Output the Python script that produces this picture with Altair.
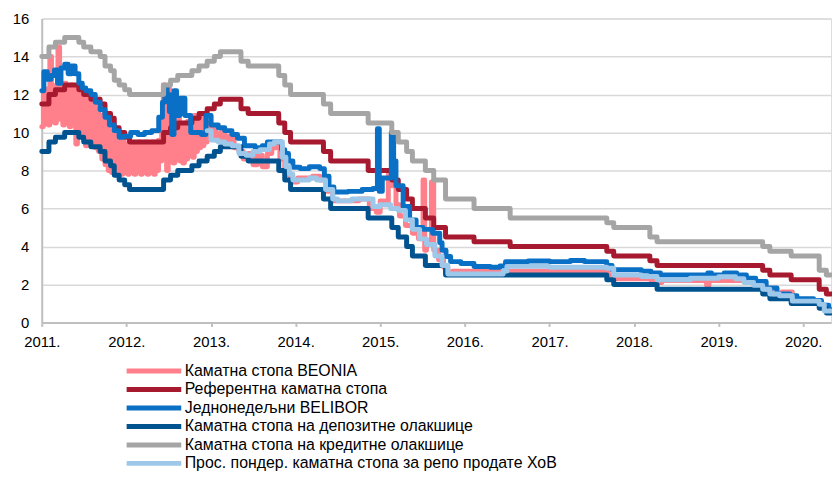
import altair as alt
import pandas as pd

# ---------------- series names and colours (legend order) ----------------
names = [
    "Каматна стопа BEONIA",
    "Референтна каматна стопа",
    "Једнонедељни BELIBOR",
    "Каматна стопа на депозитне олакшице",
    "Каматна стопа на кредитне олакшице",
    "Прос. пондер. каматна стопа за репо продате ХоВ",
]
colors = ["#FF808B", "#A6192E", "#0A70C6", "#00538F", "#A5A5A5", "#9DC8EA"]

END_DATE = "2020-04-30"

# ---------------- policy rate and corridor (step changes) ----------------
policy_dates = [
    "2011-01-01", "2011-02-01", "2011-03-01", "2011-04-10", "2011-06-10", "2011-07-01",
    "2011-08-01", "2011-09-10", "2011-10-01", "2011-10-25", "2011-11-10", "2011-12-01",
    "2011-12-25", "2012-01-15", "2012-06-10", "2012-07-10", "2012-08-10", "2012-10-10",
    "2012-11-10", "2012-12-15", "2013-01-15", "2013-02-10", "2013-05-10", "2013-06-10",
    "2013-10-20", "2013-11-15", "2013-12-10", "2014-05-01", "2014-06-01", "2014-11-10",
    "2015-02-20", "2015-03-20", "2015-04-25", "2015-05-20", "2015-07-15", "2015-08-20",
    "2015-10-10", "2016-02-10", "2016-07-15", "2017-09-05", "2017-10-05", "2018-03-10",
    "2018-04-10", "2019-07-10", "2019-08-10", "2019-11-10", "2020-03-10", "2020-04-10",
]
ref_rate = [
    11.5, 12.0, 12.25, 12.5, 12.25, 12.0,
    11.75, 11.5, 11.0, 10.75, 10.25, 10.0,
    9.75, 9.5, 10.0, 10.25, 10.5, 10.75,
    11.0, 11.25, 11.5, 11.75, 11.25, 11.0,
    10.5, 10.0, 9.5, 9.0, 8.5, 8.0,
    7.5, 7.0, 6.5, 6.0, 5.5, 5.0,
    4.5, 4.25, 4.0, 3.75, 3.5, 3.25,
    3.0, 2.75, 2.5, 2.25, 1.75, 1.5,
]
lending_rate = [
    14.0, 14.5, 14.75, 15.0, 14.75, 14.5,
    14.25, 14.0, 13.5, 13.25, 12.75, 12.5,
    12.25, 12.0, 12.5, 12.75, 13.0, 13.25,
    13.5, 13.75, 14.0, 14.25, 13.75, 13.5,
    13.0, 12.5, 12.0, 11.5, 11.0, 10.5,
    10.0, 9.5, 9.0, 8.5, 8.0, 7.5,
    6.5, 6.0, 5.5, 5.25, 5.0, 4.5,
    4.25, 4.0, 3.75, 3.5, 2.75, 2.5,
]
deposit_rate = [
    9.0, 9.5, 9.75, 10.0, 9.75, 9.5,
    9.25, 9.0, 8.5, 8.25, 7.75, 7.5,
    7.25, 7.0, 7.5, 7.75, 8.0, 8.25,
    8.5, 8.75, 9.0, 9.25, 8.75, 8.5,
    8.0, 7.5, 7.0, 6.5, 6.0, 5.5,
    5.0, 4.5, 4.0, 3.5, 3.0, 3.0,
    2.5, 2.5, 2.5, 2.25, 2.0, 2.0,
    1.75, 1.5, 1.25, 1.0, 0.75, 0.5,
]

# ---------------- BEONIA: weekly readings 2011-2012, then change points ----------------
beonia_weekly_start = "2011-01-01"
beonia_weekly = [
    # 2011 Q1
    10.3, 12.1, 10.5, 12.3, 10.4, 14.0, 10.6, 12.4, 10.5, 12.5, 14.5, 10.7, 12.5,
    # 2011 Q2
    10.4, 12.6, 10.5, 12.4, 10.3, 12.5, 10.4, 12.3, 9.4, 12.2, 10.2, 12.0, 10.0,
    # 2011 Q3
    11.9, 9.3, 11.8, 9.8, 11.6, 9.4, 11.4, 9.2, 11.2, 9.0, 10.9, 8.6, 10.6,
    # 2011 Q4
    8.3, 10.3, 8.0, 10.1, 7.9, 9.9, 7.8, 9.7, 8.0, 9.6, 7.8, 9.5, 7.9,
    # 2012 Q1
    9.4, 7.8, 9.5, 7.9, 9.3, 7.8, 9.4, 8.0, 9.5, 7.8, 9.4, 7.9, 9.5,
    # 2012 Q2
    7.8, 9.4, 7.9, 9.5, 7.8, 9.5, 8.0, 9.6, 8.5, 10.2, 12.5, 11.8, 8.0,
    # 2012 Q3
    12.3, 9.0, 10.8, 8.4, 10.5, 8.6, 10.7, 8.5, 10.4, 8.4, 10.5, 8.6, 10.6,
    # 2012 Q4
    8.8, 10.7, 8.7, 10.9, 9.0, 10.8, 9.2, 11.0, 9.3, 10.8, 9.5, 10.5, 9.8,
]
beonia_dates = [
    "2013-01-01", "2013-01-20", "2013-02-10", "2013-03-01", "2013-03-20", "2013-04-10",
    "2013-05-01", "2013-05-20", "2013-06-10", "2013-07-01", "2013-07-20", "2013-08-10",
    "2013-09-01", "2013-09-20", "2013-10-10", "2013-10-25", "2013-11-15", "2013-12-10",
    "2014-01-10", "2014-02-15", "2014-03-15", "2014-04-15", "2014-05-15", "2014-06-10",
    "2014-08-01", "2014-10-01", "2014-11-15", "2014-12-15", "2015-01-01", "2015-01-20",
    "2015-02-05", "2015-02-20", "2015-03-10", "2015-03-25", "2015-04-20", "2015-05-20",
    "2015-06-15", "2015-07-05", "2015-07-12", "2015-07-20", "2015-08-10", "2015-08-20",
    "2015-09-10", "2015-10-01", "2015-10-20", "2015-11-10", "2016-06-01", "2016-07-15",
    "2017-09-10", "2017-10-10", "2018-03-15", "2018-04-15", "2018-05-01", "2018-11-10",
    "2018-11-20", "2019-06-01", "2019-07-15", "2019-08-15", "2019-09-15", "2019-10-01",
    "2019-11-15", "2020-01-01", "2020-03-15", "2020-04-15",
]
beonia_vals = [
    10.2, 9.6, 10.0, 9.5, 9.8, 9.2,
    9.0, 8.6, 8.9, 8.3, 8.8, 8.2,
    8.9, 9.2, 9.4, 8.6, 7.8, 7.4,
    7.6, 7.6, 7.7, 7.5, 6.9, 6.4,
    6.4, 6.5, 6.0, 5.8, 6.4, 6.2,
    7.8, 7.2, 6.2, 5.6, 5.1, 4.7,
    4.4, 7.5, 3.8, 4.3, 7.4, 3.8,
    3.3, 2.9, 2.6, 2.7, 2.6, 2.7,
    2.5, 2.3, 2.2, 2.1, 2.2, 1.95,
    2.2, 2.1, 1.8, 1.5, 1.3, 1.6,
    1.2, 1.1, 0.8, 0.55,
]

# ---------------- BELIBOR 1W ----------------
belibor_dates = [
    "2011-01-01", "2011-01-10", "2011-01-25", "2011-02-10", "2011-02-25", "2011-03-10",
    "2011-03-25", "2011-04-10", "2011-04-25", "2011-05-10", "2011-05-25", "2011-06-10",
    "2011-06-25", "2011-07-10", "2011-08-01", "2011-08-20", "2011-09-10", "2011-10-01",
    "2011-10-20", "2011-11-10", "2011-12-01", "2011-12-20", "2012-01-20", "2012-02-20",
    "2012-03-20", "2012-04-20", "2012-05-20", "2012-06-05", "2012-06-15", "2012-06-25",
    "2012-07-05", "2012-07-15", "2012-07-25", "2012-08-05", "2012-08-20", "2012-09-10",
    "2012-10-05", "2012-11-20", "2012-12-10", "2013-01-01", "2013-02-01", "2013-03-01",
    "2013-04-01", "2013-04-25", "2013-05-25", "2013-07-10", "2013-08-10", "2013-09-01",
    "2013-11-01", "2013-11-15", "2013-12-01", "2013-12-20", "2014-01-20", "2014-03-01",
    "2014-04-15", "2014-05-05", "2014-05-25", "2014-06-15", "2014-08-15", "2014-10-15",
    "2014-12-01", "2014-12-20", "2014-12-28", "2015-01-10", "2015-02-18", "2015-02-28",
    "2015-03-10", "2015-04-10", "2015-05-08", "2015-06-05", "2015-07-05", "2015-08-15",
    "2015-09-15", "2015-09-25", "2015-10-12", "2015-11-01", "2015-12-15", "2016-02-10",
    "2016-04-20", "2016-06-01", "2016-06-25", "2016-10-01", "2017-01-01", "2017-04-01",
    "2017-06-01", "2017-09-05", "2017-09-28", "2018-02-01", "2018-03-15", "2018-04-25",
    "2018-11-15", "2018-12-01", "2019-01-25", "2019-03-20", "2019-05-01", "2019-06-10",
    "2019-07-25", "2019-09-10", "2019-11-05", "2019-12-05", "2020-02-15", "2020-03-20",
    "2020-04-20",
]
belibor_vals = [
    12.2, 13.2, 12.8, 13.0, 13.3, 12.6,
    13.4, 13.6, 13.1, 13.5, 13.1, 12.6,
    12.35, 12.2, 12.0, 11.6, 11.2, 10.8,
    10.4, 10.1, 9.75, 9.8, 10.0, 9.9,
    10.0, 10.1, 10.8, 11.6, 12.4, 12.0,
    11.1, 9.9, 12.2, 10.9, 11.8, 10.9,
    10.0, 9.9, 10.9, 10.4, 10.25, 10.1,
    9.9, 9.7, 9.3, 9.2, 9.3, 9.5,
    9.1, 8.9, 8.5, 8.17, 8.1, 8.2,
    8.1, 7.7, 7.13, 6.87, 6.9, 7.0,
    7.05, 10.2, 6.9, 7.6, 10.0, 8.5,
    7.2, 6.1, 5.4, 5.0, 4.9, 4.7,
    4.2, 3.8, 3.47, 3.2, 3.1, 2.94,
    2.9, 2.97, 3.2, 3.23, 3.2, 3.26,
    3.2, 3.0, 2.77, 2.7, 2.6, 2.5,
    2.6, 2.5, 2.6, 2.5, 2.33, 2.16,
    1.81, 1.5, 1.4, 1.24, 1.16, 0.9,
    0.68,
]

# ---------------- weighted average repo rate ----------------
repo_dates = [
    "2012-12-15", "2013-01-01", "2013-02-01", "2013-03-01", "2013-04-01", "2013-05-01",
    "2013-06-01", "2013-07-01", "2013-08-01", "2013-09-10", "2013-10-01", "2013-11-05",
    "2013-11-20", "2013-12-05", "2013-12-20", "2014-03-01", "2014-04-01", "2014-05-10",
    "2014-06-10", "2014-07-01", "2014-09-01", "2014-12-01", "2015-01-01", "2015-02-15",
    "2015-03-20", "2015-04-20", "2015-05-20", "2015-06-20", "2015-07-20", "2015-08-25",
    "2015-09-25", "2015-10-20", "2016-06-15", "2016-07-01", "2017-01-01", "2017-09-05",
    "2017-10-05", "2018-02-01", "2018-04-10", "2018-09-01", "2019-01-01", "2019-03-15",
    "2019-04-20", "2019-06-01", "2019-07-10", "2019-08-10", "2019-09-20", "2019-11-15",
    "2020-03-10", "2020-04-01",
]
repo_vals = [
    10.1, 9.6, 9.5, 9.4, 9.3, 8.9,
    8.8, 9.0, 9.1, 9.4, 9.5, 8.7,
    8.2, 7.8, 7.5, 7.6, 7.5, 7.0,
    6.5, 6.4, 6.5, 6.1, 6.2, 6.0,
    5.9, 5.4, 4.9, 4.4, 4.1, 3.5,
    3.0, 2.55, 2.7, 2.95, 2.9, 2.85,
    2.5, 2.42, 2.25, 2.33, 2.4, 2.3,
    2.1, 1.95, 1.75, 1.5, 1.4, 1.12,
    0.95, 0.6,
]

# ---------------- build long table ----------------
rows = []


def add(name, dates, vals, extend=True):
    for d, v in zip(dates, vals):
        rows.append({"date": pd.Timestamp(d), "value": v, "series": name})
    if extend:
        rows.append({"date": pd.Timestamp(END_DATE), "value": vals[-1], "series": name})


weekly_dates = pd.date_range(beonia_weekly_start, periods=len(beonia_weekly), freq="7D")
add(names[0], list(weekly_dates) + beonia_dates, beonia_weekly + beonia_vals)
add(names[1], policy_dates, ref_rate)
add(names[2], belibor_dates, belibor_vals)
add(names[3], policy_dates, deposit_rate)
add(names[4], policy_dates, lending_rate)
add(names[5], repo_dates, repo_vals)
df = pd.DataFrame(rows)

FONT = "Liberation Sans"

color = alt.Color(
    "series:N",
    scale=alt.Scale(domain=names, range=colors),
    legend=alt.Legend(
        title=None,
        orient="none",
        legendX=83,
        legendY=347,
        direction="vertical",
        symbolType="stroke",
        symbolSize=3025,
        symbolStrokeWidth=5,
        clipHeight=16,
        rowPadding=2.6,
        labelFont=FONT,
        labelFontSize=16,
        labelColor="#000000",
        labelLimit=600,
        labelOffset=1,
        padding=0,
    ),
)

x = alt.X(
    "date:T",
    scale=alt.Scale(
        domain=[alt.DateTime(year=2011, month=1, date=1), alt.DateTime(year=2020, month=4, date=30)]
    ),
    axis=alt.Axis(
        title=None,
        values=[alt.DateTime(year=y, month=1, date=1) for y in range(2011, 2021)],
        format="%Y.",
        labelFont=FONT,
        labelFontSize=15,
        labelColor="#000000",
        labelPadding=8,
        labelFlush=False,
        tickSize=4,
        tickColor="#bfbfbf",
        tickWidth=2,
        domainColor="#bfbfbf",
        domainWidth=2,
        grid=False,
        labelOverlap=False,
    ),
)
y = alt.Y(
    "value:Q",
    scale=alt.Scale(domain=[0, 16], nice=False),
    axis=alt.Axis(
        title=None,
        values=list(range(0, 17, 2)),
        labelFont=FONT,
        labelFontSize=15,
        labelColor="#000000",
        labelPadding=13,
        ticks=False,
        tickSize=0,
        domainColor="#bfbfbf",
        domainWidth=2,
        grid=True,
        gridColor="#d9d9d9",
        gridWidth=1.5,
    ),
)

layers = []
for n in names:
    layers.append(
        alt.Chart(df)
        .transform_filter(alt.datum.series == n)
        .mark_line(interpolate="step-after", strokeWidth=5, strokeCap="round", strokeJoin="round")
        .encode(x=x, y=y, color=color)
    )

chart = (
    alt.layer(*layers)
    .properties(
        width=795,
        height=306,
        autosize=alt.AutoSizeParams(type="none"),
        padding={"left": 34, "top": 9, "right": 1, "bottom": 149},
    )
    .configure_view(stroke="#c8c8c8", strokeWidth=1.5)
    .configure(background="white")
)

chart.save("out.html", embed_options={"renderer": "svg", "actions": False})
